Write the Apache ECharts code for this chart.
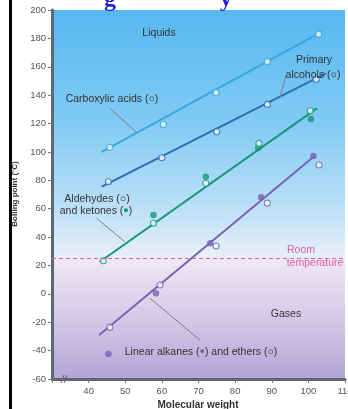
<!DOCTYPE html>
<html><head><meta charset="utf-8">
<script src="https://cdn.jsdelivr.net/npm/echarts@6/dist/echarts.min.js"></script>
<style>html,body{margin:0;padding:0;background:#fff}#c{width:348px;height:409px}</style>
</head><body><div id="c"></div>
<script>
// ---- data ----
const yTicks = [-60,-40,-20,0,20,40,60,80,100,120,140,160,180,200];
const xTicks = [40,50,60,70,80,90,100,110];
const acidX = [45.8,60.4,74.8,88.8,102.8];
const acidY = [103.2,119.3,141.7,163.6,183];
const acidFitX = [43.6,103.7];
const acidFitY = [100.1,184.7];
const alcoholX = [45.4,60,75,88.8,102.1];
const alcoholY = [79,95.9,114.2,133.5,151.2];
const alcoholFitX = [43.6,104.8];
const alcoholFitY = [75.5,155.4];
const aldehydeX = [44,57.7,72,86.5,100.5];
const aldehydeY = [23.3,49.7,77.9,106,129];
const ketoneX = [57.7,72,86.3,100.7];
const ketoneY = [55.5,82.5,102.7,123.2];
const carbonylFitX = [43.1,102.3];
const carbonylFitY = [22.6,130.7];
const alkaneX = [45.4,58.4,73.2,87.1,101.4];
const alkaneY = [-42.4,0.4,35.6,68.1,97.2];
const etherX = [45.8,59.5,74.8,88.8,102.9];
const etherY = [-23.6,6.2,33.7,63.9,90.8];
const hydrocarbonFitX = [42.9,101.6];
const hydrocarbonFitY = [-29,97];
const roomTemp = 25;

const C_ACID = '#38a6df', C_ALC = '#2f6db4', C_GRN = '#16977a', C_PUR = '#7763b3', C_PINK = '#e060a8';
const zip = (a,b) => a.map((v,i)=>[v,b[i]]);

const chart = echarts.init(document.getElementById('c'), null, {renderer:'canvas'});
const FONT = 'Liberation Sans, Arial, sans-serif';
const LF = '10.5px ' + FONT;

function fit(xs, ys, color){
  return {type:'line', data: zip(xs,ys), symbol:'none', lineStyle:{color, width:2}, z:2, silent:true};
}
function pts(xs, ys, color, open){
  return {type:'scatter', data: zip(xs,ys), symbol:'circle', symbolSize: open?6:6.5,
    itemStyle: open ? {color:'#f4f8fc', borderColor: color, borderWidth:1.1} : {color: color}, z: open?4:3};
}
function leader(x1,y1,x2,y2){
  return {type:'line', data:[[x1,y1],[x2,y2]], symbol:'none', lineStyle:{color:'#7c8088', width:1}, z:2, silent:true};
}
function label(x, y, text, fill, extra){
  return {type:'text', x, y, z:50, style:Object.assign({text, font:LF, fill: fill||'#333', textAlign:'center', textVerticalAlign:'middle'}, extra||{})};
}

const option = {
  animation:false,
  grid:{left:52, right:3, top:10, bottom:30, show:true, borderWidth:0, containLabel:false, outerBoundsMode:'none',
    backgroundColor:{type:'linear', x:0,y:0,x2:0,y2:1, colorStops:[
      {offset:0, color:'#56b7f0'},
      {offset:0.3, color:'#80caf4'},
      {offset:0.55, color:'#bfe1f7'},
      {offset:0.665, color:'#e6eff8'},
      {offset:0.68, color:'#eee7f4'},
      {offset:0.85, color:'#d1c6e6'},
      {offset:1, color:'#b3a4d6'}]}},
  xAxis:{type:'value', min:30, max:110, interval:10,
    axisLine:{show:true, onZero:false, lineStyle:{color:'#5f6670', width:3}},
    axisTick:{show:true, length:4, lineStyle:{color:'#777', width:1}},
    axisLabel:{color:'#555', fontSize:9.5, fontFamily:FONT, margin:7, alignMaxLabel:'center', hideOverlap:false,
      formatter: v => xTicks.includes(v) ? String(v) : ''},
    splitLine:{show:false}},
  yAxis:{type:'value', min:-60, max:200, interval:20,
    axisLine:{show:true, onZero:false, lineStyle:{color:'#5a6878', width:3}},
    axisTick:{show:true, length:4, lineStyle:{color:'#777', width:1}},
    axisLabel:{color:'#555', fontSize:9.5, fontFamily:FONT, margin:6,
      formatter: v => yTicks.includes(v) ? String(v) : ''},
    splitLine:{show:false}},
  series:[
    fit(acidFitX, acidFitY, C_ACID),
    fit(alcoholFitX, alcoholFitY, C_ALC),
    fit(carbonylFitX, carbonylFitY, C_GRN),
    fit(hydrocarbonFitX, hydrocarbonFitY, C_PUR),
    leader(45.85,130.7,53.1,113.8),
    leader(93.9,154.2,92.3,138.5),
    leader(42.2,53.2,49.9,36.7),
    leader(56.8,-3.2,70.4,-32.6),
    {type:'line', data:[], markLine:{silent:true, symbol:'none', label:{show:false},
      lineStyle:{color:C_PINK, type:[4,3], width:1}, data:[{yAxis: roomTemp}]}},
    pts(ketoneX, ketoneY, C_GRN, false),
    pts(alkaneX, alkaneY, C_PUR, false),
    pts(acidX, acidY, C_ACID, true),
    pts(alcoholX, alcoholY, C_ALC, true),
    pts(aldehydeX, aldehydeY, C_GRN, true),
    pts(etherX, etherY, C_PUR, true)
  ],
  graphic:[
    {type:'rect', shape:{x:9, y:0, width:3, height:409}, style:{fill:'#000'}, z:100},
    {type:'text', x:104, y:12, style:{text:'g', font:'bold 24px "Liberation Serif", serif', fill:'#1f1fe6', textVerticalAlign:'bottom'}},
    {type:'text', x:220, y:12, style:{text:'y', font:'bold 24px "Liberation Serif", serif', fill:'#1f1fe6', textVerticalAlign:'bottom'}},
    {type:'polyline', shape:{points:[[61,383],[64,375]]}, style:{stroke:'#5f6670', lineWidth:1}, z:100},
    {type:'polyline', shape:{points:[[64,383],[67,375]]}, style:{stroke:'#5f6670', lineWidth:1}, z:100},
    {type:'text', x:15, y:194, rotation:Math.PI/2, style:{text:'Boiling point (°C)', font:'bold 8px '+FONT, fill:'#333', textAlign:'center', textVerticalAlign:'middle'}},
    {type:'text', x:198, y:405, style:{text:'Molecular weight', font:'bold 10px '+FONT, fill:'#333', textAlign:'center', textVerticalAlign:'middle'}},
    label(159, 33, 'Liquids'),
    label(314, 60, 'Primary'),
    label(313, 75, 'alcohols (○)'),
    label(112, 99, 'Carboxylic acids (○)'),
    label(97, 199, 'Aldehydes (○)'),
    label(96, 211, 'and ketones ({g|●})', null, {rich:{g:{fill:C_GRN, font:'9px '+FONT}}}),
    label(301, 250, 'Room', C_PINK),
    label(315, 263, 'temperature', C_PINK),
    label(286, 314, 'Gases'),
    label(201, 352, 'Linear alkanes ({p|●}) and ethers (○)', null, {rich:{p:{fill:C_PUR, font:'9px '+FONT}}})
  ]
};
chart.setOption(option);
</script></body></html>
